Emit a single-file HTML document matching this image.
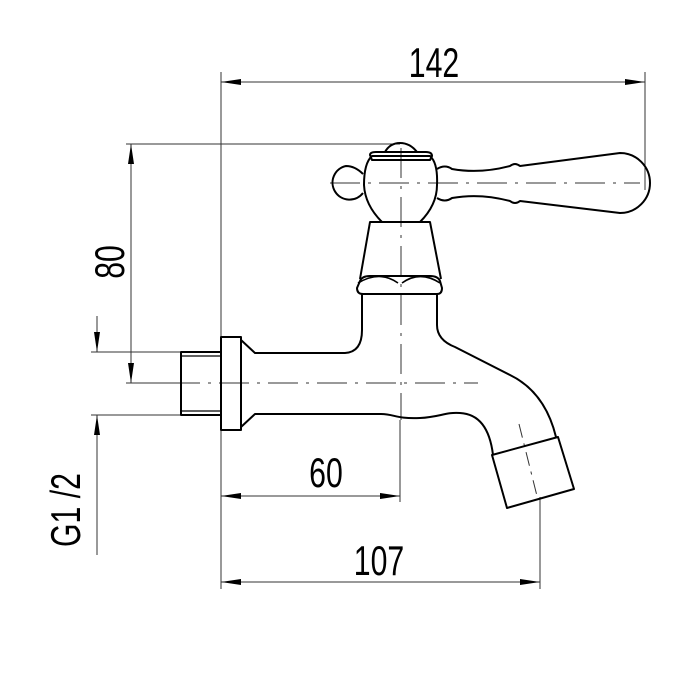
<!DOCTYPE html>
<html><head><meta charset="utf-8"><style>
html,body{margin:0;padding:0;background:#fff;}
svg{display:block;}
text{font-family:"Liberation Sans",sans-serif;fill:#000;}
</style></head><body>
<svg width="690" height="687" viewBox="0 0 690 687" xmlns="http://www.w3.org/2000/svg">
<defs>
<marker id="a" viewBox="0 0 20 8" refX="20" refY="4" markerWidth="20" markerHeight="8" markerUnits="userSpaceOnUse" orient="auto-start-reverse"><path d="M0,1 L20,4 L0,7 Z" fill="#000"/></marker>
</defs>
<g stroke="#333" stroke-width="1" fill="none">
<line x1="221" y1="72" x2="221" y2="589"/>
<line x1="645" y1="72" x2="645" y2="190"/>
<line x1="126" y1="144" x2="400" y2="144"/>
<line x1="126" y1="383" x2="190" y2="383"/>
<line x1="91" y1="352" x2="182" y2="352"/>
<line x1="91" y1="415" x2="182" y2="415"/>
<line x1="400" y1="420" x2="400" y2="502"/>
<line x1="540" y1="497" x2="540" y2="589"/>
<line x1="221" y1="82" x2="645" y2="82" marker-start="url(#a)" marker-end="url(#a)"/>
<line x1="131" y1="144" x2="131" y2="383" marker-start="url(#a)" marker-end="url(#a)"/>
<line x1="221" y1="496" x2="400" y2="496" marker-start="url(#a)" marker-end="url(#a)"/>
<line x1="221" y1="582" x2="540" y2="582" marker-start="url(#a)" marker-end="url(#a)"/>
<line x1="97" y1="316" x2="97" y2="352" marker-end="url(#a)"/>
<line x1="97" y1="555" x2="97" y2="415" marker-end="url(#a)"/>
<line x1="170" y1="383" x2="478" y2="383" stroke-dasharray="30,8,3,8"/>
<line x1="401" y1="148" x2="401" y2="420" stroke-dasharray="30,8,3,8"/>
<line x1="330" y1="183" x2="640" y2="183" stroke-dasharray="30,8,3,8"/>
<line x1="519" y1="424" x2="538" y2="500" stroke-dasharray="14,6,3,6"/>
</g>
<g stroke="#000" stroke-width="2" fill="none" stroke-linejoin="round">
<rect x="181" y="352" width="40" height="63"/>
<line x1="181" y1="356" x2="221" y2="356" stroke-width="1.2"/>
<line x1="181" y1="411" x2="221" y2="411" stroke-width="1.2"/>
<rect x="221" y="337" width="20" height="93"/>
<path d="M241,340 L255,353 L345,353 Q362,352 362,330 L362,294"/>
<path d="M241,427 L255,414 L380,414 C395,414 395,419 420,418 C440,417 445,412 460,413 C480,414 490,430 493,455"/>
<path d="M437,294 L437,325 Q437,340 455,347 L510,375 Q545,392 556,437"/>
<path d="M492,455 L558,437 L574,489 L507,508 Z"/>
<path d="M363,294 L437,294 Q442,294 442,288 L440,281 Q438,276 430,276 L370,276 Q362,276 360,281 L357,288 Q357,294 363,294"/>
<path d="M358,283 Q380,270 398,283 M402,283 Q420,270 440,283" stroke-width="1.6"/>
<path d="M360,279 L370,222 L430,222 L441,279"/>
<path d="M382,222 Q365,205 364,185 Q364,163 372,156 L430,156 Q438,163 437,185 Q437,205 420,222"/>
<path d="M370,155 Q370,152 376,152 L426,152 Q432,152 432,156 L430,160 L372,160 Z"/>
<path d="M385,152 Q390,143 400,143 Q410,143 417,152"/>
<path d="M363,174 Q355,166 346,166 A17,17 0 1 0 363,193"/>
<path d="M437,169 Q445,164 452,169 Q480,174 510,166 Q515,162 520,166 L620,153 A30,30 0 0 1 620,213 L520,201 Q515,205 510,201 Q480,193 452,198 Q445,203 437,198"/>
</g>
<g>
<text x="434" y="77" font-size="42" text-anchor="middle" transform="translate(434,0) scale(0.72,1) translate(-434,0)">142</text>
<text x="326" y="487" font-size="42" text-anchor="middle" transform="translate(326,0) scale(0.72,1) translate(-326,0)">60</text>
<text x="379" y="575" font-size="42" text-anchor="middle" transform="translate(379,0) scale(0.72,1) translate(-379,0)">107</text>
<text font-size="42" text-anchor="middle" transform="translate(124,262) rotate(-90) scale(0.72,1)">80</text>
<text font-size="42" text-anchor="middle" transform="translate(80,510) rotate(-90) scale(0.72,1)">G1 /2</text>
</g>
</svg>
</body></html>
